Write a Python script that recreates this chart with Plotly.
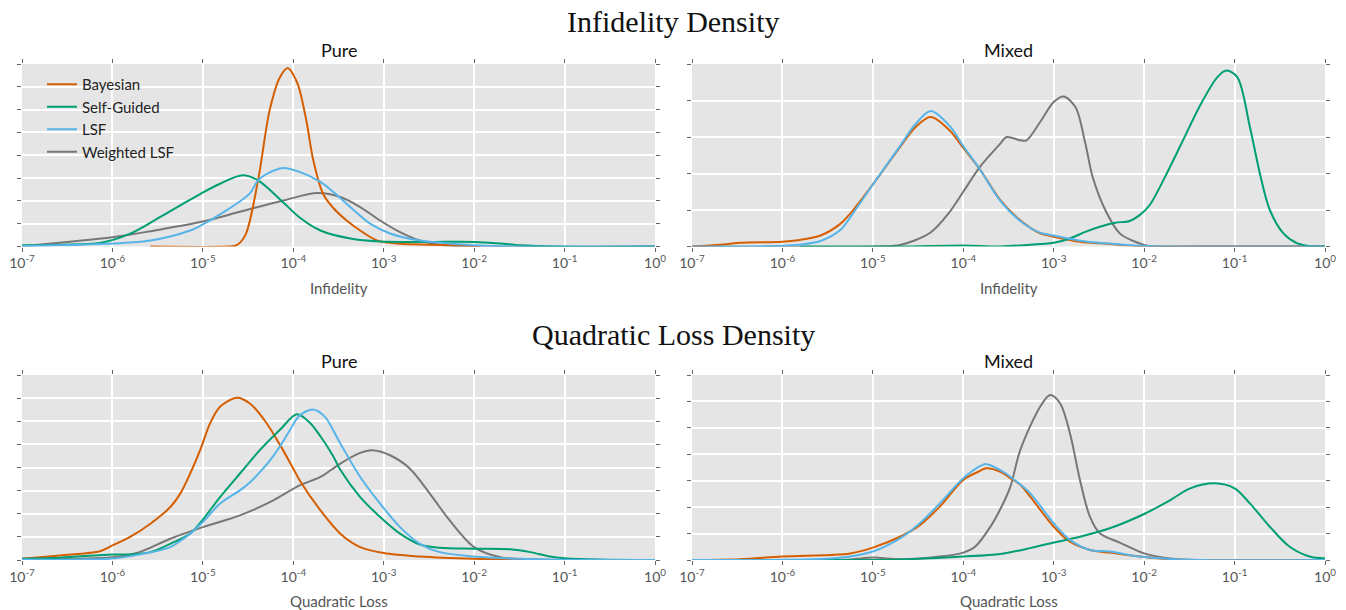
import numpy as np
import plotly.graph_objects as go

# ---------------------------------------------------------------
# Density curves; x is given as log10 of the error value
# ---------------------------------------------------------------

# Infidelity, pure states
inf_pure_bayes_x = [-5.58, -4.72, -4.63, -4.53, -4.39, -4.26, -4.15, -4.06, -3.97, -3.93,
                    -3.85, -3.78, -3.67, -3.56, -3.41, -3.26, -3.07, -2.82, -2.49, -2.16, -1.94]
inf_pure_bayes_y = [0.0, 0.0, 0.05, 0.5, 2.9, 6.0, 7.4, 7.82, 7.3, 6.86,
                    5.4, 3.8, 2.3, 1.7, 1.14, 0.7, 0.26, 0.12, 0.08, 0.04, 0.0]

inf_pure_sg_x = [-7.0, -6.58, -6.14, -5.81, -5.47, -5.25, -5.03, -4.81, -4.56, -4.39,
                 -4.11, -3.93, -3.70, -3.37, -3.04, -2.49, -2.0, -1.71, -1.49, -1.05, 0.0]
inf_pure_sg_y = [0.05, 0.08, 0.15, 0.55, 1.3, 1.8, 2.3, 2.75, 3.12, 2.9,
                 1.93, 1.27, 0.7, 0.35, 0.22, 0.2, 0.2, 0.13, 0.05, 0.0, 0.0]

inf_pure_lsf_x = [-7.0, -6.0, -5.58, -5.14, -5.03, -4.74, -4.48, -4.39, -4.26, -4.11,
                  -3.93, -3.70, -3.54, -3.37, -3.15, -2.93, -2.60, -2.27, -1.94, -1.49, 0.0]
inf_pure_lsf_y = [0.02, 0.13, 0.26, 0.7, 0.9, 1.58, 2.33, 2.9, 3.25, 3.44,
                  3.27, 2.83, 2.33, 1.73, 1.0, 0.57, 0.26, 0.13, 0.04, 0.0, 0.0]

inf_pure_wlsf_x = [-7.0, -6.0, -5.58, -5.03, -4.59, -4.11, -3.73, -3.48, -3.26, -3.04,
                   -2.82, -2.60, -2.38, -2.05, 0.0]
inf_pure_wlsf_y = [0.02, 0.41, 0.67, 1.07, 1.52, 2.02, 2.34, 2.17, 1.73, 1.14,
                   0.63, 0.26, 0.08, 0.0, 0.0]

# Infidelity, mixed states
inf_mix_bayes_x = [-7.0, -6.69, -6.47, -6.0, -5.81, -5.58, -5.36, -5.25, -5.0, -4.70,
                   -4.53, -4.36, -4.15, -4.0, -3.81, -3.59, -3.37, -3.15, -3.0, -2.71,
                   -2.38, -2.05, -1.5, 0.0]
inf_mix_bayes_y = [0.0, 0.05, 0.1, 0.13, 0.18, 0.3, 0.62, 0.9, 1.7, 2.72,
                   3.27, 3.55, 3.18, 2.7, 2.09, 1.27, 0.72, 0.36, 0.27, 0.13,
                   0.07, 0.01, 0.0, 0.0]

inf_mix_sg_x = [-5.81, -4.70, -4.0, -3.59, -3.15, -3.0, -2.82, -2.65, -2.49, -2.32,
                -2.16, -2.05, -1.94, -1.75, -1.57, -1.38, -1.19, -1.09, -0.97, -0.83,
                -0.72, -0.61, -0.46, -0.31, -0.17, 0.0]
inf_mix_sg_y = [0.0, 0.0, 0.03, 0.0, 0.07, 0.1, 0.22, 0.4, 0.54, 0.65,
                0.7, 0.86, 1.13, 2.0, 2.91, 3.87, 4.64, 4.82, 4.64, 3.27,
                2.0, 1.0, 0.36, 0.09, 0.01, 0.0]

inf_mix_lsf_x = [-7.0, -6.0, -5.81, -5.58, -5.36, -5.25, -5.0, -4.70, -4.53, -4.36,
                 -4.15, -4.0, -3.81, -3.59, -3.37, -3.15, -3.0, -2.71, -2.38, -2.05,
                 -1.5, 0.0]
inf_mix_lsf_y = [0.0, 0.02, 0.05, 0.15, 0.45, 0.8, 1.7, 2.75, 3.35, 3.71,
                 3.3, 2.75, 2.09, 1.25, 0.7, 0.38, 0.3, 0.16, 0.08, 0.02,
                 0.0, 0.0]

inf_mix_wlsf_x = [-7.0, -4.92, -4.70, -4.37, -4.15, -4.0, -3.81, -3.59, -3.52, -3.37,
                  -3.30, -3.15, -3.0, -2.89, -2.76, -2.65, -2.57, -2.43, -2.27, -2.10,
                  -1.94, -1.38, 0.0]
inf_mix_wlsf_y = [0.0, 0.0, 0.04, 0.37, 0.95, 1.5, 2.2, 2.82, 3.0, 2.91,
                  2.91, 3.41, 3.96, 4.11, 3.82, 2.82, 1.91, 1.0, 0.36, 0.13,
                  0.01, 0.0, 0.0]

# Quadratic loss, pure states
ql_pure_bayes_x = [-7.0, -6.58, -6.14, -6.0, -5.81, -5.58, -5.36, -5.25, -5.14, -5.03,
                   -4.92, -4.81, -4.62, -4.48, -4.31, -4.15, -4.0, -3.93, -3.70, -3.48,
                   -3.26, -3.0, -2.60, -2.0, -1.49, -1.05, 0.0]
ql_pure_bayes_y = [0.05, 0.2, 0.38, 0.63, 0.99, 1.57, 2.29, 2.87, 3.74, 4.75,
                   5.91, 6.63, 7.02, 6.77, 6.0, 5.0, 3.95, 3.45, 2.15, 1.14,
                   0.56, 0.3, 0.15, 0.05, 0.02, 0.0, 0.0]

ql_pure_sg_x = [-7.0, -6.58, -6.0, -5.81, -5.58, -5.36, -5.14, -5.0, -4.81, -4.59,
                -4.37, -4.15, -3.96, -3.82, -3.70, -3.56, -3.48, -3.26, -3.04, -2.82,
                -2.60, -2.38, -2.0, -1.60, -1.38, -1.16, -1.0, -0.61, 0.0]
ql_pure_sg_y = [0.05, 0.1, 0.24, 0.24, 0.34, 0.7, 1.14, 1.75, 2.72, 3.74,
                4.75, 5.62, 6.3, 5.95, 5.35, 4.5, 3.9, 2.72, 1.86, 1.14,
                0.67, 0.53, 0.49, 0.46, 0.34, 0.15, 0.08, 0.02, 0.0]

ql_pure_lsf_x = [-7.0, -6.0, -5.70, -5.36, -5.14, -5.0, -4.81, -4.59, -4.48, -4.37,
                 -4.26, -4.15, -4.04, -3.93, -3.78, -3.65, -3.48, -3.26, -3.04, -2.82,
                 -2.60, -2.38, -2.0, -1.49, -1.05, 0.0]
ql_pure_lsf_y = [0.02, 0.06, 0.24, 0.56, 1.14, 1.64, 2.44, 3.01, 3.35, 3.8,
                 4.3, 4.9, 5.6, 6.25, 6.51, 6.19, 5.04, 3.59, 2.44, 1.42,
                 0.7, 0.34, 0.15, 0.05, 0.01, 0.0]

ql_pure_wlsf_x = [-7.0, -6.0, -5.70, -5.36, -5.0, -4.59, -4.26, -3.93, -3.70, -3.48,
                  -3.26, -3.13, -2.93, -2.71, -2.49, -2.27, -2.0, -1.71, -1.38, -1.05, 0.0]
ql_pure_wlsf_y = [0.05, 0.12, 0.34, 0.92, 1.42, 1.93, 2.5, 3.23, 3.59, 4.17,
                  4.63, 4.75, 4.53, 3.95, 2.87, 1.71, 0.56, 0.12, 0.02, 0.0, 0.0]

# Quadratic loss, mixed states
ql_mix_bayes_x = [-7.0, -6.47, -6.0, -5.47, -5.25, -5.0, -4.70, -4.48, -4.26, -4.0,
                  -3.81, -3.75, -3.59, -3.48, -3.37, -3.26, -3.0, -2.82, -2.60, -2.38,
                  -2.05, -1.71, -1.38, 0.0]
ql_mix_bayes_y = [0.0, 0.03, 0.13, 0.19, 0.25, 0.47, 0.88, 1.32, 2.02, 3.03,
                  3.38, 3.47, 3.34, 3.1, 2.85, 2.4, 1.26, 0.69, 0.38, 0.28,
                  0.13, 0.03, 0.0, 0.0]

ql_mix_sg_x = [-7.0, -5.14, -4.70, -4.0, -3.59, -3.26, -3.0, -2.71, -2.38, -2.0,
               -1.71, -1.49, -1.22, -1.0, -0.83, -0.61, -0.39, -0.17, 0.0]
ql_mix_sg_y = [0.0, 0.0, 0.02, 0.13, 0.23, 0.45, 0.66, 0.88, 1.2, 1.74,
               2.27, 2.71, 2.9, 2.71, 2.14, 1.26, 0.5, 0.13, 0.06]

ql_mix_lsf_x = [-7.0, -6.0, -5.47, -5.25, -5.0, -4.70, -4.48, -4.26, -4.0, -3.81,
                -3.75, -3.59, -3.48, -3.26, -3.0, -2.82, -2.60, -2.38, -2.05, -1.71,
                -1.38, 0.0]
ql_mix_lsf_y = [0.0, 0.01, 0.06, 0.13, 0.32, 0.82, 1.39, 2.14, 3.09, 3.56,
                3.63, 3.4, 3.15, 2.52, 1.39, 0.76, 0.38, 0.32, 0.13, 0.04,
                0.0, 0.0]

ql_mix_wlsf_x = [-7.0, -5.81, -5.25, -5.0, -4.70, -4.26, -4.0, -3.87, -3.70, -3.59,
                 -3.48, -3.37, -3.15, -3.04, -2.93, -2.82, -2.71, -2.60, -2.49, -2.27,
                 -2.0, -1.71, -1.38, 0.0]
ql_mix_wlsf_y = [0.0, 0.0, 0.02, 0.09, 0.03, 0.13, 0.28, 0.5, 1.26, 1.93,
                 2.77, 4.16, 5.8, 6.24, 5.93, 4.79, 3.03, 1.64, 1.01, 0.66,
                 0.25, 0.06, 0.0, 0.0]

# ---------------------------------------------------------------
series_names = ["Bayesian", "Self-Guided", "LSF", "Weighted LSF"]
series_colors = ["#D55E00", "#009E73", "#56B4E9", "#777777"]

panels = [
    ("x", "y", [(inf_pure_bayes_x, inf_pure_bayes_y), (inf_pure_sg_x, inf_pure_sg_y),
                (inf_pure_lsf_x, inf_pure_lsf_y), (inf_pure_wlsf_x, inf_pure_wlsf_y)]),
    ("x2", "y2", [(inf_mix_bayes_x, inf_mix_bayes_y), (inf_mix_sg_x, inf_mix_sg_y),
                  (inf_mix_lsf_x, inf_mix_lsf_y), (inf_mix_wlsf_x, inf_mix_wlsf_y)]),
    ("x3", "y3", [(ql_pure_bayes_x, ql_pure_bayes_y), (ql_pure_sg_x, ql_pure_sg_y),
                  (ql_pure_lsf_x, ql_pure_lsf_y), (ql_pure_wlsf_x, ql_pure_wlsf_y)]),
    ("x4", "y4", [(ql_mix_bayes_x, ql_mix_bayes_y), (ql_mix_sg_x, ql_mix_sg_y),
                  (ql_mix_lsf_x, ql_mix_lsf_y), (ql_mix_wlsf_x, ql_mix_wlsf_y)]),
]

y_tops = [8, 5, 8, 7]
tick_exps = list(range(-7, 1))
tick_vals = [10.0 ** e for e in tick_exps]
tick_text = ["10<sup>%d</sup>" % e for e in tick_exps]

W, H = 1346, 610
fig = go.Figure()

for p, (xa, ya, curves) in enumerate(panels):
    # weighted LSF is drawn first so the other estimators sit on top of it
    for k in [3, 0, 1, 2]:
        cx, cy = curves[k]
        fig.add_trace(go.Scatter(
            x=10.0 ** np.array(cx), y=cy, xaxis=xa, yaxis=ya,
            mode="lines", name=series_names[k],
            line=dict(color=series_colors[k], width=2, shape="spline", smoothing=0.9),
            showlegend=(p == 0), legendrank=k + 1,
            hoverinfo="skip",
        ))

# pixel boxes of the four panels: (left, right, top, bottom)
boxes = [(22, 655, 64, 246.5), (692, 1325, 64, 246.5),
         (22, 655, 375, 560), (692, 1325, 375, 560)]
xlabels = ["Infidelity", "Infidelity", "Quadratic Loss", "Quadratic Loss"]

sans = "Lato, 'Noto Sans', sans-serif"
serif = "'Liberation Serif', 'DejaVu Serif', serif"
axis_font = dict(family=sans, size=14, color="#555555")

layout = dict(
    width=W, height=H,
    margin=dict(l=0, r=0, t=0, b=0, autoexpand=False),
    paper_bgcolor="white",
    plot_bgcolor="#E5E5E5",
    font=dict(family=sans, color="#333333"),
    showlegend=True,
    legend=dict(
        x=42 / W, y=1 - 68 / H, xanchor="left", yanchor="top",
        bgcolor="rgba(0,0,0,0)", borderwidth=0,
        font=dict(family=sans, size=15, color="#222222"),
        tracegroupgap=0, traceorder="normal",
    ),
)

for i, (l, r, t, b) in enumerate(boxes):
    sfx = "" if i == 0 else str(i + 1)
    layout["xaxis" + sfx] = dict(
        type="log", range=[-7, 0], domain=[l / W, r / W],
        anchor="y" + sfx, automargin=False,
        tickvals=tick_vals, ticktext=tick_text,
        showgrid=True, gridcolor="white", gridwidth=1.5,
        zeroline=False, showline=False,
        ticks="outside", ticklen=4, tickwidth=1, tickcolor="#666666",
        mirror="ticks", tickfont=axis_font,
    )
    layout["yaxis" + sfx] = dict(
        range=[0, y_tops[i]], domain=[1 - b / H, 1 - t / H],
        anchor="x" + sfx, automargin=False,
        dtick=1, showticklabels=False,
        showgrid=True, gridcolor="white", gridwidth=1.5,
        zeroline=False, showline=False,
        ticks="outside", ticklen=4, tickwidth=1, tickcolor="#666666",
        mirror="ticks",
    )

fig.update_layout(**layout)

# headings and axis titles
annotations = [
    dict(text="Infidelity Density", x=0.5, y=1 - 22 / H,
         font=dict(family=serif, size=30, color="#111111")),
    dict(text="Quadratic Loss Density", x=0.5, y=1 - 334 / H,
         font=dict(family=serif, size=30, color="#111111")),
]
for (l, r, t, b), sub in zip(boxes, ["Pure", "Mixed", "Pure", "Mixed"]):
    annotations.append(dict(text=sub, x=(l + r) / 2 / W, y=1 - (t - 14) / H,
                            font=dict(family=sans, size=18, color="#111111")))
for (l, r, t, b), lab in zip(boxes, xlabels):
    annotations.append(dict(text=lab, x=(l + r) / 2 / W, y=1 - (b + 41) / H,
                            font=dict(family=sans, size=15, color="#555555")))
for a in annotations:
    a.update(xref="paper", yref="paper", showarrow=False, xanchor="center", yanchor="middle")
fig.update_layout(annotations=annotations)

fig.write_html("out.html")
